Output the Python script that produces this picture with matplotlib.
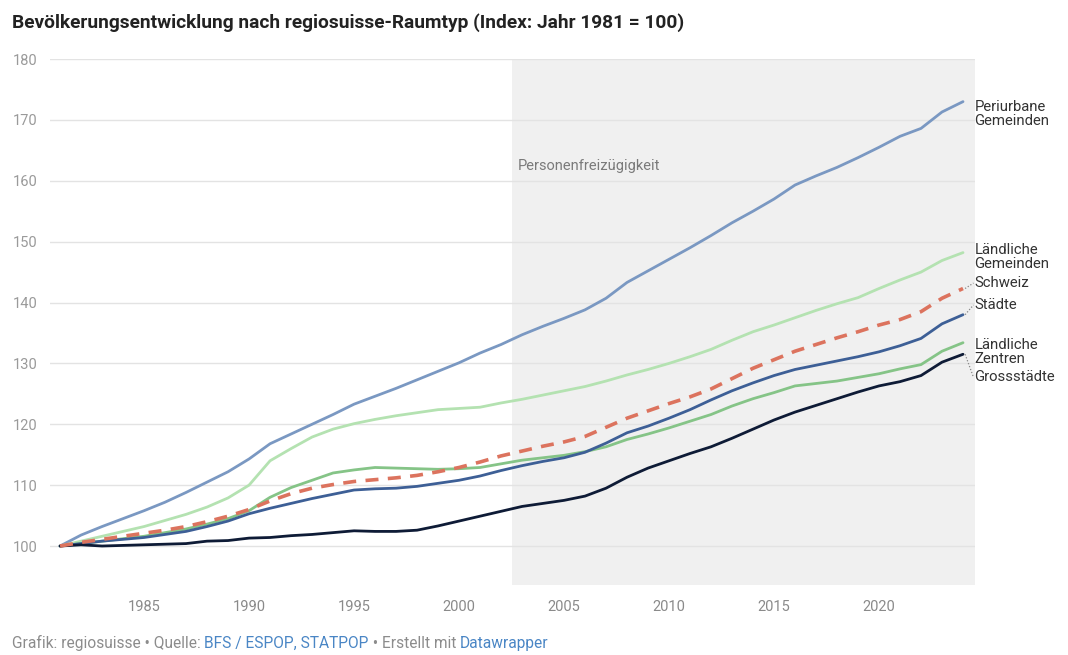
import matplotlib.pyplot as plt
import numpy as np

plt.rcParams['font.family'] = ['Roboto', 'DejaVu Sans']

# -------------------------- data (index: 1981 = 100) --------------------------
years = list(range(1981, 2025))

periurbane = [100.0, 101.8, 103.2, 104.5, 105.8, 107.2, 108.8, 110.5, 112.2, 114.3,
              116.8, 118.4, 120.0, 121.6, 123.3, 124.6, 125.9, 127.3, 128.7, 130.1,
              131.7, 133.1, 134.7, 136.1, 137.4, 138.8, 140.7, 143.3, 145.2, 147.1,
              149.0, 151.0, 153.1, 155.0, 157.0, 159.3, 160.8, 162.2, 163.8, 165.5,
              167.3, 168.6, 171.3, 173.0]
laendliche_gemeinden = [100.0, 100.8, 101.6, 102.4, 103.2, 104.2, 105.2, 106.4, 107.9, 110.0,
                        114.0, 116.0, 117.9, 119.2, 120.1, 120.8, 121.4, 121.9, 122.4, 122.6,
                        122.8, 123.5, 124.1, 124.8, 125.5, 126.2, 127.1, 128.1, 129.0, 130.0,
                        131.1, 132.3, 133.8, 135.2, 136.3, 137.5, 138.7, 139.8, 140.8, 142.3,
                        143.7, 145.0, 146.9, 148.2]
schweiz = [100.0, 100.6, 101.1, 101.6, 102.1, 102.6, 103.2, 104.0, 104.9, 106.0,
           107.4, 108.6, 109.5, 110.1, 110.6, 110.9, 111.2, 111.6, 112.2, 112.9,
           113.8, 114.8, 115.6, 116.4, 117.1, 118.0, 119.5, 121.0, 122.2, 123.4,
           124.5, 125.8, 127.5, 129.2, 130.6, 132.0, 133.1, 134.2, 135.2, 136.3,
           137.2, 138.5, 140.7, 142.3]
staedte = [100.0, 100.4, 100.8, 101.1, 101.4, 101.9, 102.4, 103.2, 104.1, 105.3,
           106.2, 107.0, 107.8, 108.5, 109.2, 109.4, 109.5, 109.8, 110.3, 110.8,
           111.5, 112.4, 113.2, 113.9, 114.5, 115.4, 116.9, 118.6, 119.7, 121.0,
           122.4, 124.0, 125.5, 126.8, 128.0, 129.0, 129.7, 130.4, 131.1, 131.9,
           132.9, 134.1, 136.5, 138.0]
laendliche_zentren = [100.0, 100.4, 100.8, 101.2, 101.6, 102.2, 102.8, 103.6, 104.5, 105.8,
                      108.0, 109.6, 110.8, 112.0, 112.5, 112.9, 112.8, 112.7, 112.6, 112.7,
                      112.9, 113.5, 114.1, 114.5, 114.9, 115.5, 116.3, 117.5, 118.4, 119.4,
                      120.5, 121.6, 123.0, 124.2, 125.2, 126.3, 126.7, 127.1, 127.7, 128.3,
                      129.1, 129.8, 132.0, 133.4]
grossstaedte = [100.0, 100.2, 100.0, 100.1, 100.2, 100.3, 100.4, 100.8, 100.9, 101.3,
                101.4, 101.7, 101.9, 102.2, 102.5, 102.4, 102.4, 102.6, 103.3, 104.1,
                104.9, 105.7, 106.5, 107.0, 107.5, 108.2, 109.5, 111.3, 112.8, 114.0,
                115.2, 116.3, 117.7, 119.2, 120.7, 122.0, 123.1, 124.2, 125.3, 126.3,
                127.0, 128.0, 130.2, 131.5]

freizuegigkeit_start = 2002.5

# -------------------------- drawing --------------------------
fig = plt.figure(figsize=(10.68, 6.55), dpi=100)
ax = fig.add_axes([0.0468, 0.1069, 0.8661, 0.8030])

ax.set_xlim(1980.52, 2024.57)
ax.set_ylim(93.6, 180)

ax.axvspan(freizuegigkeit_start, 2024.57, color='#f0f0f0', zorder=0, lw=0)
ax.text(freizuegigkeit_start + 0.3, 162.4, 'Personenfreizügigkeit', fontsize=10.5,
        color='#7a7a7a', ha='left', va='center')

for yv in range(100, 181, 10):
    ax.axhline(yv, color='#e3e3e3', linewidth=1.0, zorder=1)

series = [
    (periurbane, '#7a98c2', '-', 2.0),
    (laendliche_gemeinden, '#b4e2b1', '-', 2.0),
    (laendliche_zentren, '#85c487', '-', 2.0),
    (staedte, '#3d5f96', '-', 2.0),
    (grossstaedte, '#0e1b36', '-', 2.0),
]
for values, color, ls, lw in series:
    ax.plot(years, values, color=color, linestyle=ls, linewidth=lw, zorder=3,
            solid_capstyle='round')
ax.plot(years, schweiz, color='#dc735e', linestyle=(0, (3.6, 2.6)), linewidth=2.6, zorder=4)

# direct labels on the right
labels = [
    ('Periurbane\nGemeinden', periurbane[-1], 170.9, False),
    ('Ländliche\nGemeinden', laendliche_gemeinden[-1], 147.4, False),
    ('Schweiz', schweiz[-1], 143.2, True),
    ('Städte', staedte[-1], 139.6, True),
    ('Ländliche\nZentren', laendliche_zentren[-1], 131.9, False),
    ('Grossstädte', grossstaedte[-1], 127.7, True),
]
label_x = 2024.55
for text, yend, ylab, connector in labels:
    ax.text(label_x, ylab, text, fontsize=10.7, color='#333333', ha='left', va='center',
            linespacing=1.0, clip_on=False)
    if connector:
        ax.plot([years[-1] + 0.1, label_x - 0.05], [yend, ylab], color='#888888',
                linestyle=(0, (1, 1.5)), linewidth=0.9, clip_on=False, zorder=5)

ax.set_yticks(range(100, 181, 10))
ax.set_xticks([1985, 1990, 1995, 2000, 2005, 2010, 2015, 2020])
ax.tick_params(axis='y', length=0, pad=9, labelsize=10.5, labelcolor='#9a9a9a')
ax.tick_params(axis='x', length=0, pad=11, labelsize=10.5, labelcolor='#8a8a8a')
for sp in ax.spines.values():
    sp.set_visible(False)

fig.text(0.011, 0.965, 'Bevölkerungsentwicklung nach regiosuisse-Raumtyp (Index: Jahr 1981 = 100)',
         fontsize=13.8, fontweight='bold', color='#222222', ha='left', va='center')

# footer with source links
parts = [('Grafik: regiosuisse • Quelle: ', '#8c8c8c'), ('BFS / ESPOP, STATPOP', '#4a86c5'),
         (' • Erstellt mit ', '#8c8c8c'), ('Datawrapper', '#4a86c5')]
fig.canvas.draw()
renderer = fig.canvas.get_renderer()
xpos = 0.011
for s, c in parts:
    t = fig.text(xpos, 0.006, s, fontsize=11.2, color=c, ha='left', va='bottom')
    bb = t.get_window_extent(renderer=renderer)
    xpos += bb.width / fig.bbox.width

fig.savefig('out.png', dpi=100)
